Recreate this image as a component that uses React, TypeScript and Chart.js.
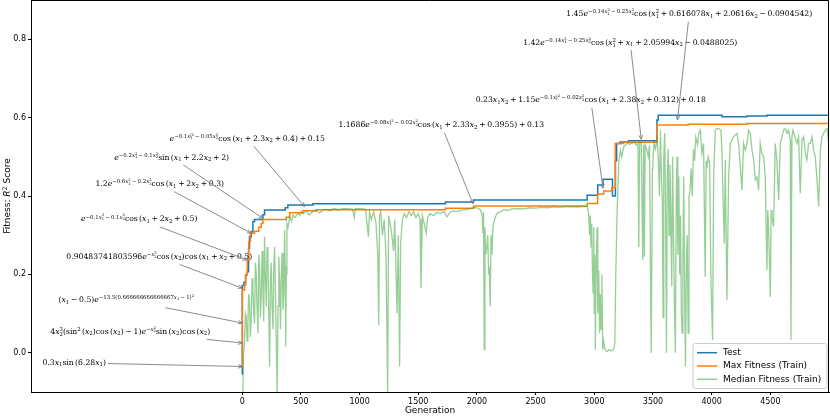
import React, { useEffect, useRef } from 'react';
import { Chart, registerables } from 'chart.js';

Chart.register(...registerables);

const W = 830;
const H = 416;

// ---------- data ----------
const xTicks = [0, 500, 1000, 1500, 2000, 2500, 3000, 3500, 4000, 4500];
const xTickLabels = ['0', '500', '1000', '1500', '2000', '2500', '3000', '3500', '4000', '4500'];
const yTicks = [0, 0.2, 0.4, 0.6, 0.8];
const yTickLabels = ['0.0', '0.2', '0.4', '0.6', '0.8'];

const seriesNames = ['Test', 'Max Fitness (Train)', 'Median Fitness (Train)'];

// [generation, score] - value holds from this generation until the next entry
const testScore: [number, number][] = [
  [0, -0.055], [1, 0.172], [15, 0.18], [28, 0.199], [43, 0.207], [54, 0.267], [62, 0.296],
  [77, 0.309], [91, 0.335], [105, 0.34], [176, 0.352], [190, 0.364], [367, 0.37], [389, 0.377],
  [602, 0.38], [1731, 0.385], [1972, 0.39], [2939, 0.402], [3029, 0.428], [3075, 0.443],
  [3155, 0.4], [3180, 0.49], [3190, 0.534], [3220, 0.538], [3293, 0.541], [3534, 0.594],
  [3545, 0.606], [4088, 0.602], [4301, 0.604], [4471, 0.606], [5000, 0.606],
];

const maxFitness: [number, number][] = [
  [0, -0.035], [1, 0.16], [20, 0.173], [30, 0.2], [43, 0.237], [55, 0.284], [70, 0.305],
  [105, 0.31], [140, 0.32], [162, 0.33], [176, 0.34], [375, 0.346], [404, 0.357], [517, 0.3625],
  [631, 0.365], [1731, 0.369], [1972, 0.3745], [2939, 0.381], [3028, 0.405], [3080, 0.413],
  [3150, 0.422], [3179, 0.534], [3250, 0.537], [3534, 0.581], [3800, 0.583], [4300, 0.585],
  [5000, 0.585],
];

const medianFitness: [number, number][] = [
  [0, -0.1], [6, -0.09], [12, 0.0], [20, 0.033], [27, 0.1], [34, 0.092], [41, 0.03], [48, 0.075],
  [55, 0.15], [62, 0.135], [69, 0.04], [77, 0.09], [84, 0.19], [91, 0.16], [98, 0.1], [105, 0.075],
  [112, 0.23], [119, 0.203], [126, 0.12], [134, 0.05], [141, 0.25], [148, 0.22], [155, 0.09],
  [162, 0.14], [169, 0.26], [176, 0.17], [183, 0.08], [190, 0.296], [197, 0.2], [205, 0.118],
  [212, 0.27], [219, 0.245], [226, 0.1], [233, -0.035], [240, 0.18], [247, 0.23], [254, 0.12],
  [262, 0.06], [269, 0.22], [276, 0.27], [283, 0.15], [290, 0.03], [298, -0.1], [305, 0.12],
  [312, 0.245], [319, 0.18], [326, 0.06], [333, 0.2], [340, 0.255], [347, 0.11], [354, 0.15],
  [361, 0.313], [366, 0.22], [370, 0.016], [376, 0.2], [381, 0.33], [390, 0.32], [404, 0.347],
  [420, 0.335], [433, 0.352], [450, 0.345], [475, 0.356], [490, 0.35], [503, 0.36],
  [520, 0.355], [545, 0.362], [570, 0.352], [600, 0.36], [630, 0.363], [660, 0.357], [690, 0.365],
  [720, 0.366], [750, 0.362], [780, 0.368], [820, 0.365], [860, 0.368], [900, 0.368], [940, 0.366],
  [955, 0.345], [965, 0.368], [1020, 0.368], [1050, 0.366], [1063, 0.33], [1075, 0.296],
  [1085, 0.36], [1100, 0.34], [1120, 0.36], [1140, 0.33], [1155, 0.25], [1163, 0.071],
  [1170, 0.35], [1180, 0.36], [1195, 0.3], [1210, 0.34], [1225, 0.25], [1239, -0.1], [1247, 0.35],
  [1260, 0.33], [1275, 0.3], [1290, 0.26], [1300, 0.34], [1319, 0.101], [1330, 0.3], [1341, -0.035],
  [1350, 0.28], [1365, 0.34], [1380, 0.355], [1400, 0.345], [1420, 0.36], [1440, 0.35],
  [1460, 0.36], [1480, 0.345], [1500, 0.355], [1515, 0.34], [1523, 0.165], [1535, 0.35],
  [1550, 0.33], [1568, 0.305], [1580, 0.345], [1600, 0.355],
  [1630, 0.35], [1660, 0.358], [1690, 0.355], [1720, 0.36], [1745, 0.347], [1770, 0.358],
  [1800, 0.362], [1830, 0.36], [1860, 0.363], [1890, 0.365], [1920, 0.366], [1950, 0.368],
  [1972, 0.371], [2000, 0.37], [2030, 0.365], [2045, 0.35], [2050, 0.305], [2056, 0.36],
  [2062, 0.008], [2068, 0.32], [2075, 0.25], [2085, 0.271], [2092, 0.3], [2100, 0.2], [2105, 0.22],
  [2113, 0.118], [2120, 0.3], [2128, 0.25], [2136, 0.32], [2150, 0.34], [2170, 0.356], [2200, 0.36],
  [2230, 0.365], [2260, 0.363], [2300, 0.367], [2350, 0.368], [2400, 0.367], [2450, 0.37],
  [2500, 0.369], [2550, 0.371], [2600, 0.37], [2650, 0.372], [2700, 0.371], [2750, 0.372],
  [2800, 0.373], [2850, 0.372], [2900, 0.373], [2940, 0.373],
  [2952, 0.356], [2960, 0.3], [2966, 0.35], [2972, 0.27], [2978, 0.33], [2985, 0.2], [2990, 0.153],
  [2995, 0.32], [3000, 0.1], [3005, 0.25], [3009, 0.008], [3015, 0.2], [3024, 0.32], [3030, 0.1],
  [3038, 0.21], [3045, 0.05], [3052, 0.15], [3058, 0.06], [3065, 0.2], [3072, 0.008], [3080, 0.03],
  [3090, 0.01], [3100, 0.005], [3110, 0.003], [3125, 0.008], [3140, 0.005], [3155, 0.006],
  [3166, 0.01], [3175, 0.025], [3183, 0.2], [3190, 0.3], [3194, 0.356], [3208, 0.483], [3222, 0.517],
  [3235, 0.5], [3251, 0.526], [3265, 0.53], [3279, 0.535], [3300, 0.532], [3320, 0.535],
  [3340, 0.537], [3360, 0.53], [3372, 0.536], [3379, 0.27], [3386, 0.535], [3400, 0.536],
  [3413, 0.237], [3420, 0.53], [3427, 0.245], [3433, 0.53], [3445, 0.52], [3460, 0.5], [3470, 0.53],
  [3485, 0.0], [3495, 0.47],
  [3500, 0.5], [3510, 0.535], [3520, 0.52], [3535, 0.543], [3545, 0.5], [3555, 0.4], [3564, 0.568],
  [3572, 0.45], [3580, 0.39], [3586, 0.09], [3592, 0.5], [3600, 0.56], [3607, 0.38], [3615, 0.0],
  [3622, 0.45], [3630, 0.52], [3637, 0.3], [3645, 0.48], [3652, 0.35], [3660, 0.17], [3667, 0.5],
  [3675, 0.3], [3683, 0.12], [3691, 0.0], [3698, 0.39], [3705, 0.5], [3712, 0.25], [3720, 0.45],
  [3728, 0.2], [3735, 0.35], [3742, 0.1], [3748, 0.05], [3755, 0.22], [3762, 0.45], [3770, 0.15],
  [3777, -0.035], [3785, 0.25], [3792, 0.3], [3800, 0.05], [3807, 0.4], [3815, 0.41], [3825, 0.47],
  [3835, 0.4], [3845, 0.52], [3855, 0.49], [3865, 0.55], [3880, 0.53], [3890, 0.56], [3904, 0.568],
  [3917, 0.509], [3931, 0.534], [3945, 0.194], [3953, 0.49], [3960, 0.47], [3970, 0.5],
  [3983, 0.483], [3994, 0.186], [4008, 0.033], [4017, 0.449], [4031, 0.568], [4045, 0.572],
  [4060, 0.572], [4079, 0.568], [4088, 0.517], [4096, 0.407], [4108, 0.279], [4116, 0.492],
  [4130, 0.135], [4145, 0.449], [4159, 0.534], [4187, 0.551], [4216, 0.56], [4230, 0.534],
  [4244, 0.475], [4258, 0.415], [4272, 0.534], [4286, 0.517], [4301, 0.534], [4315, 0.568],
  [4329, 0.56], [4344, 0.517], [4358, 0.492], [4372, 0.441], [4386, 0.449], [4400, 0.415],
  [4414, 0.534], [4428, 0.509], [4443, 0.5], [4457, 0.449], [4471, 0.211], [4478, 0.364],
  [4485, 0.322], [4500, 0.143], [4507, 0.364], [4514, 0.347], [4528, 0.322], [4542, 0.534],
  [4556, 0.492], [4571, 0.39], [4585, 0.534], [4599, 0.551], [4613, 0.568], [4628, 0.572],
  [4642, 0.56], [4656, 0.568], [4670, 0.543], [4676, 0.033], [4684, 0.551], [4693, 0.568],
  [4727, 0.534], [4741, 0.551], [4755, 0.407], [4770, 0.543], [4784, 0.551], [4798, 0.509],
  [4812, 0.492], [4826, 0.534], [4841, 0.534], [4855, 0.551], [4869, 0.517], [4883, 0.5],
  [4898, 0.441], [4912, 0.373], [4926, 0.517], [4940, 0.551], [4969, 0.568], [4983, 0.572],
  [4997, 0.534],
];

// annotations: mini-TeX text, text centre [gen, score], arrow tip [gen, score]
const annTexts = [
  '0.3x_1sin~(6.28x_1)',
  '4x_2^3(sin^2~(x_2)cos~(x_2) − 1)e^{−x_2^2}sin~(x_2)cos~(x_2)',
  '(x_1 − 0.5)e^{−13.5(0.666666666666667x_1 − 1)^2}',
  '0.90483741803596e^{−x_2^2}cos~(x_2)cos~(x_1 + x_2 + 0.5)',
  'e^{−0.1x_1^2 − 0.1x_2^2}cos~(x_1 + 2x_2 + 0.5)',
  '1.2e^{−0.6x_1^2 − 0.2x_2^2}cos~(x_1 + 2x_2 + 0.3)',
  'e^{−0.2x_1^2 − 0.1x_2^2}sin~(x_1 + 2.2x_2 + 2)',
  'e^{−0.1x_1^{|2} − 0.05x_2^2}cos~(x_1 + 2.3x_2 + 0.4) + 0.15',
  '1.1686e^{−0.08x|^2 − 0.02x_2^2}cos~(x_1 + 2.33x_2 + 0.3955) + 0.13',
  '0.23x_1x_2 + 1.15e^{−0.1x|^2 − 0.02x_2^2}cos~(x_1 + 2.38x_2 + 0.312) + 0.18',
  '1.42e^{−0.14x_1^2 − 0.25x_2^2}cos~(x_1^2 + x_1 + 2.05994x_2 − 0.0488025)',
  '1.45e^{−0.14x_1^2 − 0.25x_2^2}cos~(x_1^2 + 0.616078x_1 + 2.0616x_2 − 0.0904542)',
];
const annTextPos: [number, number][] = [
  [-1432, -0.0255], [-954, 0.054], [-988, 0.135], [-707, 0.245], [-878, 0.341], [-703, 0.431],
  [-601, 0.499], [43, 0.547], [1696, 0.581], [2970, 0.645], [3306, 0.792], [3809, 0.864],
];
const annTips: [number, number][] = [
  [0, -0.035], [0, 0.025], [0, 0.076], [0, 0.165], [40, 0.237], [77, 0.305],
  [176, 0.343], [531, 0.373], [1966, 0.38], [3074, 0.42], [3400, 0.5445], [3709, 0.594],
];

// ---------- styles ----------
const BLUE = '#1f77b4';
const ORANGE = '#ff7f0e';
const GREEN = 'rgba(44,160,44,0.5)';
const ARROW = '#7f7f7f';
const SANS = '"DejaVu Sans"';
const SERIF = '"DejaVu Serif"';
const MATH_SIZE = 7.7;

// ---------- tiny math renderer ----------
type MNode = { t: 's'; s: string } | { t: 'x'; sub: MNode[] | null; sup: MNode[] | null };

function parseMath(s: string): MNode[] {
  const out: MNode[] = [];
  let buf = '';
  let i = 0;
  const readGroup = (): string => {
    if (s[i] === '{') {
      let depth = 1;
      let j = i + 1;
      while (j < s.length && depth > 0) {
        if (s[j] === '{') depth++;
        else if (s[j] === '}') depth--;
        j++;
      }
      const g = s.slice(i + 1, j - 1);
      i = j;
      return g;
    }
    const g = s[i];
    i++;
    return g;
  };
  while (i < s.length) {
    const c = s[i];
    if (c === '^' || c === '_') {
      if (buf) {
        out.push({ t: 's', s: buf });
        buf = '';
      }
      let sub: MNode[] | null = null;
      let sup: MNode[] | null = null;
      while (i < s.length && (s[i] === '^' || s[i] === '_')) {
        const k = s[i];
        i++;
        const g = parseMath(readGroup());
        if (k === '^') sup = g;
        else sub = g;
      }
      out.push({ t: 'x', sub, sup });
    } else {
      buf += c;
      i++;
    }
  }
  if (buf) out.push({ t: 's', s: buf });
  return out;
}

function drawMath(ctx: CanvasRenderingContext2D, nodes: MNode[], x: number, y: number, size: number, draw: boolean): number {
  let cx = x;
  for (const n of nodes) {
    if (n.t === 's') {
      const parts = n.s.match(/[A-Za-z]+|~| |[^A-Za-z~ ]+/g) || [];
      for (const p of parts) {
        if (p === '~') {
          cx += size * 0.17;
          continue;
        }
        if (p === ' ') {
          cx += size * 0.22;
          continue;
        }
        const italic = /^[A-Za-z]$/.test(p);
        ctx.font = `${italic ? 'italic ' : ''}${size}px ${SERIF}`;
        if (draw) ctx.fillText(p, cx, y);
        cx += ctx.measureText(p).width;
      }
    } else {
      const ss = size * 0.7;
      let w = 0;
      if (n.sup) w = Math.max(w, drawMath(ctx, n.sup, cx, y - size * 0.38, ss, draw));
      if (n.sub) w = Math.max(w, drawMath(ctx, n.sub, cx, y + size * (n.sup ? 0.26 : 0.18), ss, draw));
      cx += w;
    }
  }
  return cx - x;
}

const overlayPlugin = {
  id: 'overlay',
  afterDatasetsDraw(chart: any) {
    const ctx: CanvasRenderingContext2D = chart.ctx;
    const { left, right, top, bottom } = chart.chartArea;
    const xs = chart.scales.x;
    const ys = chart.scales.y;
    ctx.save();
    // spines (top/right)
    ctx.strokeStyle = '#000';
    ctx.lineWidth = 1;
    ctx.beginPath();
    ctx.moveTo(left, top + 0.5);
    ctx.lineTo(right - 0.5, top + 0.5);
    ctx.lineTo(right - 0.5, bottom);
    ctx.stroke();

    // annotations
    for (let k = 0; k < annTexts.length; k++) {
      const cx = xs.getPixelForValue(annTextPos[k][0]);
      const cy = ys.getPixelForValue(annTextPos[k][1]);
      const tx = xs.getPixelForValue(annTips[k][0]);
      const ty = ys.getPixelForValue(annTips[k][1]);
      const nodes = parseMath(annTexts[k]);
      const w = drawMath(ctx, nodes, 0, 0, MATH_SIZE, false);
      const h = MATH_SIZE * 1.5;
      const dx = tx - cx;
      const dy = ty - cy;
      const pad = 2;
      const t1 = dx !== 0 ? (w / 2 + pad) / Math.abs(dx) : Infinity;
      const t2 = dy !== 0 ? (h / 2 + pad) / Math.abs(dy) : Infinity;
      const t = Math.min(t1, t2);
      const sx = cx + dx * t;
      const sy = cy + dy * t;
      ctx.strokeStyle = ARROW;
      ctx.lineWidth = 0.9;
      ctx.beginPath();
      ctx.moveTo(sx, sy);
      ctx.lineTo(tx, ty);
      ctx.stroke();
      const ang = Math.atan2(ty - sy, tx - sx);
      const L = 4.5;
      const A = 0.42;
      ctx.beginPath();
      ctx.moveTo(tx - L * Math.cos(ang - A), ty - L * Math.sin(ang - A));
      ctx.lineTo(tx, ty);
      ctx.lineTo(tx - L * Math.cos(ang + A), ty - L * Math.sin(ang + A));
      ctx.stroke();
      ctx.fillStyle = '#000';
      ctx.textAlign = 'left';
      ctx.textBaseline = 'alphabetic';
      drawMath(ctx, nodes, cx - w / 2, cy + MATH_SIZE * 0.3, MATH_SIZE, true);
    }
    ctx.restore();
  },
  afterDraw(chart: any) {
    const ctx: CanvasRenderingContext2D = chart.ctx;
    const { left, right, top, bottom } = chart.chartArea;
    ctx.save();
    ctx.fillStyle = '#000';
    // x title
    ctx.font = `9px ${SANS}`;
    ctx.textAlign = 'center';
    ctx.textBaseline = 'middle';
    ctx.fillText('Generation', (left + right) / 2, 410.5);

    // y title with R^2
    const p1 = 'Fitness: ';
    const p3 = ' Score';
    ctx.font = `9px ${SANS}`;
    const w1 = ctx.measureText(p1).width;
    const w3 = ctx.measureText(p3).width;
    ctx.font = `italic 9px ${SANS}`;
    const w2 = ctx.measureText('R').width;
    ctx.font = `6.3px ${SANS}`;
    const w2s = ctx.measureText('2').width;
    const total = w1 + w2 + w2s + w3;
    ctx.translate(7, (top + bottom) / 2);
    ctx.rotate(-Math.PI / 2);
    ctx.textAlign = 'left';
    ctx.textBaseline = 'alphabetic';
    let px = -total / 2;
    const base = 3.2;
    ctx.font = `9px ${SANS}`;
    ctx.fillText(p1, px, base);
    px += w1;
    ctx.font = `italic 9px ${SANS}`;
    ctx.fillText('R', px, base);
    px += w2;
    ctx.font = `6.3px ${SANS}`;
    ctx.fillText('2', px, base - 3.6);
    px += w2s;
    ctx.font = `9px ${SANS}`;
    ctx.fillText(p3, px, base);
    ctx.setTransform(1, 0, 0, 1, 0, 0);

    // legend
    const lw = 134;
    const lh = 45;
    const lx = right - 2 - lw;
    const ly = bottom - 3.5 - lh;
    const r = 2.5;
    ctx.beginPath();
    ctx.moveTo(lx + r, ly);
    ctx.lineTo(lx + lw - r, ly);
    ctx.quadraticCurveTo(lx + lw, ly, lx + lw, ly + r);
    ctx.lineTo(lx + lw, ly + lh - r);
    ctx.quadraticCurveTo(lx + lw, ly + lh, lx + lw - r, ly + lh);
    ctx.lineTo(lx + r, ly + lh);
    ctx.quadraticCurveTo(lx, ly + lh, lx, ly + lh - r);
    ctx.lineTo(lx, ly + r);
    ctx.quadraticCurveTo(lx, ly, lx + r, ly);
    ctx.closePath();
    ctx.fillStyle = 'rgba(255,255,255,0.8)';
    ctx.fill();
    ctx.strokeStyle = '#cccccc';
    ctx.lineWidth = 1;
    ctx.stroke();
    const colors = [BLUE, ORANGE, GREEN];
    for (let k = 0; k < seriesNames.length; k++) {
      const ry = ly + 9.2 + k * 13.3;
      ctx.strokeStyle = colors[k];
      ctx.lineWidth = 1.5;
      ctx.beginPath();
      ctx.moveTo(lx + 4, ry);
      ctx.lineTo(lx + 24, ry);
      ctx.stroke();
      ctx.fillStyle = '#000';
      ctx.font = `9px ${SANS}`;
      ctx.textAlign = 'left';
      ctx.textBaseline = 'middle';
      ctx.fillText(seriesNames[k], lx + 30, ry);
    }
    ctx.restore();
  },
};

export default function App() {
  const ref = useRef<HTMLCanvasElement>(null);
  useEffect(() => {
    document.body.style.margin = '0';
    const canvas = ref.current;
    if (!canvas) return;
    const toXY = (arr: [number, number][]) => arr.map(([x, y]) => ({ x, y }));
    const tickFont = { family: SANS, size: 8 };
    const chart = new Chart(canvas, {
      type: 'line',
      data: {
        datasets: [
          {
            label: seriesNames[0],
            data: toXY(testScore),
            borderColor: BLUE,
            borderWidth: 1.5,
            pointRadius: 0,
            stepped: true,
            fill: false,
            order: 2,
          },
          {
            label: seriesNames[1],
            data: toXY(maxFitness),
            borderColor: ORANGE,
            borderWidth: 1.5,
            pointRadius: 0,
            stepped: true,
            fill: false,
            order: 1,
          },
          {
            label: seriesNames[2],
            data: toXY(medianFitness),
            borderColor: GREEN,
            borderWidth: 1.3,
            pointRadius: 0,
            tension: 0,
            fill: false,
            order: 0,
          },
        ],
      },
      options: {
        animation: false,
        responsive: false,
        devicePixelRatio: 1,
        events: [],
        layout: { padding: { left: 0, right: 1, top: 0, bottom: 0 } },
        plugins: { legend: { display: false }, tooltip: { enabled: false }, title: { display: false } },
        scales: {
          x: {
            type: 'linear',
            min: -1800,
            max: 5000,
            afterBuildTicks: (s: any) => {
              s.ticks = xTicks.map((v) => ({ value: v }));
            },
            afterFit: (s: any) => {
              s.height = 24;
              s.paddingLeft = 0;
              s.paddingRight = 0;
            },
            ticks: {
              font: tickFont,
              color: '#000',
              padding: 2,
              maxRotation: 0,
              autoSkip: false,
              callback: (_v: any, i: number) => xTickLabels[i],
            },
            grid: { drawOnChartArea: false, drawTicks: true, tickLength: 3, tickColor: '#000' },
            border: { display: true, color: '#000', width: 1 },
          },
          y: {
            type: 'linear',
            min: -0.1,
            max: 0.9,
            afterBuildTicks: (s: any) => {
              s.ticks = yTicks.map((v) => ({ value: v }));
            },
            afterFit: (s: any) => {
              s.width = 31;
              s.paddingTop = 0;
              s.paddingBottom = 0;
            },
            ticks: {
              font: tickFont,
              color: '#000',
              padding: 2,
              autoSkip: false,
              callback: (_v: any, i: number) => yTickLabels[i],
            },
            grid: { drawOnChartArea: false, drawTicks: true, tickLength: 3, tickColor: '#000' },
            border: { display: true, color: '#000', width: 1 },
          },
        },
      } as any,
      plugins: [overlayPlugin],
    });
    return () => chart.destroy();
  }, []);
  return (
    <div style={{ width: W, height: H }}>
      <canvas ref={ref} width={W} height={H} style={{ display: 'block', width: W, height: H }} />
    </div>
  );
}
